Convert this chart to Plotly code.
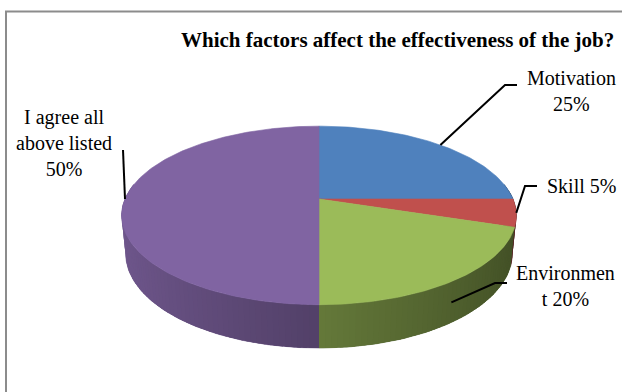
import numpy as np
import plotly.graph_objects as go

# ---- data -------------------------------------------------------------
categories = ["Motivation", "Skill", "Environment", "I agree all above listed"]
shares = [25, 5, 20, 50]
label_lines = ["Motivation<br>25%", "Skill 5%", "Environmen<br>t 20%",
               "I agree all<br>above listed<br>50%"]
title_text = "Which factors affect the effectiveness of the job?"

# ---- style ------------------------------------------------------------
colors = ["#4F81BD", "#C0504D", "#9BBB59", "#8064A2"]
W, H = 622, 392
FONT = "Times New Roman, Liberation Serif, serif"

# 3-D pie geometry (unit radius disc, viewed from above with perspective)
ELEV = np.radians(26.4)
DIST = 4.87
THICK = 0.221
SCALE = 194.0
CX, CY = 319.0, 199.0


def project(theta, z):
    """Angle on the rim (0 = back, clockwise) and height -> pixel coords."""
    theta = np.asarray(theta, dtype=float)
    x = np.sin(theta)
    y = np.cos(theta)
    c, s = np.cos(ELEV), np.sin(ELEV)
    v = z * c + y * s
    d = y * c - z * s
    k = DIST / (DIST + d)
    return CX + SCALE * x * k, CY - SCALE * v * k


def shade(hex_color, f):
    h = hex_color.lstrip("#")
    r, g, b = (int(h[i:i + 2], 16) for i in (0, 2, 4))
    return "rgb(%d,%d,%d)" % (round(r * f), round(g * f), round(b * f))


def wall_factor(theta):
    # light comes from the left: the wall darkens towards the right
    return 0.87 - 0.225 * (np.sin(theta) + 1.0)


total = float(sum(shares))
bounds = np.concatenate([[0.0], np.cumsum(shares)]) / total * 2 * np.pi

fig = go.Figure()


def add_poly(xs, ys, color, width=0.0, name=None):
    fig.add_trace(go.Scatter(
        x=xs, y=ys, mode="lines", fill="toself", fillcolor=color,
        line=dict(color=color, width=width),
        hoverinfo="name" if name else "skip", name=name or "",
        showlegend=False))


def wall_poly(t0, t1):
    ts = np.linspace(t0, t1, max(3, int(np.degrees(t1 - t0)) + 2))
    xt, yt = project(ts, 0.0)
    xb, yb = project(ts[::-1], -THICK)
    return np.concatenate([xt, xb]), np.concatenate([yt, yb])


# ---- side wall: base fill per slice, then shaded strips -----------------
VIS0, VIS1 = np.radians(80), np.radians(280)
step = np.radians(1.5)
strips = []
for i, col in enumerate(colors):
    a0, a1 = bounds[i], bounds[i + 1]
    lo, hi = max(a0, VIS0), min(a1, VIS1)
    if hi <= lo:
        continue
    xs, ys = wall_poly(lo, hi)
    add_poly(xs, ys, shade(col, wall_factor(0.5 * (lo + hi))), width=0.5)
    n = max(1, int(np.ceil((hi - lo) / step)))
    edges = np.linspace(lo, hi, n + 1)
    seg = edges[1] - edges[0]
    for t0, t1 in zip(edges[:-1], edges[1:]):
        mid = 0.5 * (t0 + t1)
        e1 = min(t1 + 0.6 * seg, hi)
        sx, sy = wall_poly(t0, e1)
        strips.append((np.cos(mid), sx, sy, shade(col, wall_factor(mid))))

strips.sort(key=lambda s: -s[0])
for _, xs, ys, c in strips:
    add_poly(xs, ys, c)

# ---- top face of each slice --------------------------------------------
for i, (name, col) in enumerate(zip(categories, colors)):
    a0, a1 = bounds[i], bounds[i + 1]
    ts = np.linspace(a0, a1, max(8, int(np.degrees(a1 - a0))))
    xr, yr = project(ts, 0.0)
    xs = np.concatenate([[CX], xr, [CX]])
    ys = np.concatenate([[CY], yr, [CY]])
    add_poly(xs, ys, col, width=0.6, name=name)

# ---- data labels with leader lines --------------------------------------
mids = 0.5 * (bounds[:-1] + bounds[1:])
anchor_z = [0.0, 0.0, -THICK / 2, 0.0]
label_pos = [(571, 91), (581, 186), (565, 286), (64, 143)]
elbows = [[(505, 85), (517, 85)],
          [(525, 186), (537, 186)],
          [(495, 283), (507, 283)],
          [(123, 150)]]

for i in range(len(categories)):
    ax, ay = project(np.array([mids[i]]), anchor_z[i])
    px = [ax[0]] + [p[0] for p in elbows[i]]
    py = [ay[0]] + [p[1] for p in elbows[i]]
    fig.add_trace(go.Scatter(
        x=px, y=py, mode="lines", line=dict(color="black", width=2),
        hoverinfo="skip", showlegend=False))
    fig.add_annotation(
        x=label_pos[i][0], y=label_pos[i][1], text=label_lines[i],
        showarrow=False, align="center", xanchor="center", yanchor="middle",
        font=dict(family=FONT, size=20, color="black"))

fig.add_annotation(
    x=397, y=40, text="<b>%s</b>" % title_text, showarrow=False,
    xanchor="center", yanchor="middle",
    font=dict(family=FONT, size=21, color="black"))

# chart-area frame
fig.add_shape(type="rect", x0=6, y0=11.5, x1=W + 20, y1=H + 20,
              line=dict(color="#8C8C8C", width=2), layer="below")

fig.update_layout(
    width=W, height=H,
    margin=dict(l=0, r=0, t=0, b=0),
    paper_bgcolor="white", plot_bgcolor="white",
    xaxis=dict(range=[0, W], visible=False, fixedrange=True),
    yaxis=dict(range=[H, 0], visible=False, fixedrange=True),
    showlegend=False,
)

fig.write_html("out.html")
